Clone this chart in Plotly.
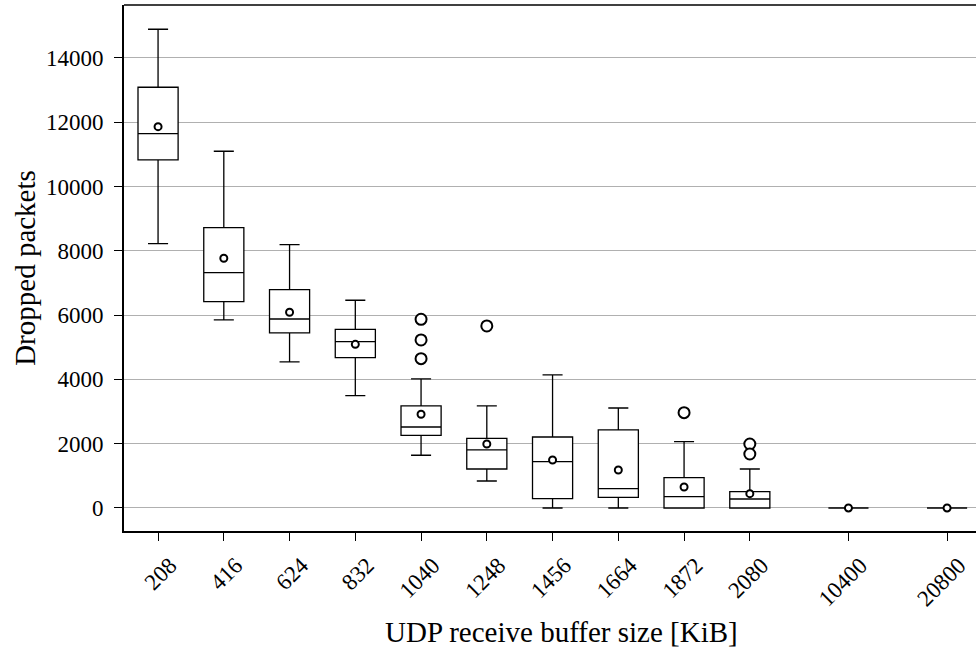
import plotly.graph_objects as go

# ---- data ----
buffer_sizes = ["208", "416", "624", "832", "1040", "1248", "1456", "1664", "1872", "2080", "10400", "20800"]
lower_whisker = [8224, 5850, 4543, 3495, 1640, 840, 0, 0, 0, 0, 0, 0]
q1_values = [10828, 6419, 5445, 4677, 2261, 1213, 290, 332, 0, 0, 0, 0]
median_values = [11646, 7322, 5880, 5175, 2520, 1805, 1442, 602, 354, 280, 0, 0]
q3_values = [13089, 8722, 6793, 5559, 3174, 2168, 2209, 2427, 943, 508, 0, 0]
upper_whisker = [14894, 11098, 8193, 6462, 4014, 3174, 4138, 3111, 2063, 1213, 0, 0]
mean_values = [11864, 7769, 6088, 5092, 2915, 1991, 1493, 1182, 653, 446, 0, 0]
outlier_sizes = ["1040", "1040", "1040", "1248", "1872", "2080", "2080"]
outlier_values = [5870, 5227, 4645, 5663, 2966, 1991, 1680]
y_ticks = [0, 2000, 4000, 6000, 8000, 10000, 12000, 14000]
y_tick_labels = [str(v) for v in y_ticks]

# ---- layout of box slots on the x axis (gap before the two large sizes) ----
slot = {s: i + 1 for i, s in enumerate(buffer_sizes[:10])}
slot["10400"] = 11.5
slot["20800"] = 13
positions = [slot[s] for s in buffer_sizes]
outlier_pos = [slot[s] for s in outlier_sizes]

FONT = "Liberation Serif"

fig = go.Figure()
fig.add_trace(go.Box(
    x=positions,
    q1=q1_values, median=median_values, q3=q3_values,
    lowerfence=lower_whisker, upperfence=upper_whisker,
    width=0.61, whiskerwidth=0.5,
    fillcolor="rgba(255,255,255,1)",
    line=dict(color="black", width=1.3),
    boxpoints=False, showlegend=False, hoverinfo="skip",
))
fig.add_trace(go.Scatter(
    x=outlier_pos, y=outlier_values, mode="markers",
    marker=dict(symbol="circle", size=11, color="white",
                line=dict(color="black", width=2)),
    showlegend=False, hoverinfo="skip",
))
fig.add_trace(go.Scatter(
    x=positions, y=mean_values, mode="markers",
    marker=dict(symbol="circle", size=7, color="white",
                line=dict(color="black", width=2)),
    showlegend=False, hoverinfo="skip",
))

fig.update_layout(
    width=976, height=649,
    margin=dict(l=124, r=0, t=5, b=118),
    paper_bgcolor="white", plot_bgcolor="white",
    font=dict(family=FONT, color="black", size=23),
    xaxis=dict(
        range=[0.482, 13.44],
        tickmode="array", tickvals=positions, ticktext=buffer_sizes,
        tickangle=-45, ticklabelshift=12, ticklabelstandoff=2,
        ticklabeloverflow="allow",
        ticks="outside", ticklen=8, tickwidth=1.3, tickcolor="black",
        showline=True, linecolor="black", linewidth=1.6, mirror=False,
        showgrid=False, zeroline=False,
        tickfont=dict(family=FONT, size=23, color="black"),
        automargin=False,
    ),
    yaxis=dict(
        range=[-716, 15648],
        tickmode="array", tickvals=y_ticks, ticktext=y_tick_labels,
        ticks="outside", ticklen=8, tickwidth=1.3, tickcolor="black",
        ticklabelstandoff=6,
        showline=True, linecolor="black", linewidth=1.6,
        showgrid=True, gridcolor="#b0b0b0", gridwidth=1.1,
        zeroline=False,
        tickfont=dict(family=FONT, size=23, color="black"),
        title=dict(text="Dropped packets",
                   font=dict(family=FONT, size=29, color="black"), standoff=2),
        automargin=False,
    ),
    annotations=[dict(
        text="UDP receive buffer size [KiB]",
        xref="paper", yref="paper", x=(561 - 124) / 852, y=0,
        xanchor="center", yanchor="middle", yshift=-101, showarrow=False,
        font=dict(family=FONT, size=29, color="black"),
    )],
)
# top spine
fig.add_shape(type="line", xref="paper", yref="paper", x0=0, x1=1, y0=1, y1=1,
              line=dict(color="black", width=1.6))

fig.write_html("out.html")
